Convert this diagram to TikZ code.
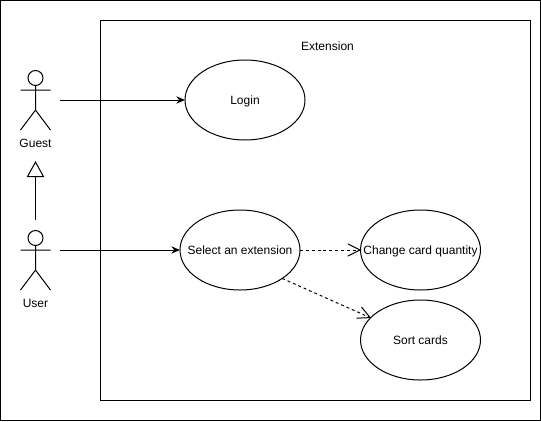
\documentclass[tikz,border=0pt]{standalone}
\usepackage{fontspec}
\setmainfont{Liberation Sans}
\usetikzlibrary{arrows.meta,shapes.geometric}
\tikzset{
  usecase/.style={draw, ellipse, minimum width=90pt, minimum height=60pt, inner xsep=-30pt, inner ysep=0pt, outer sep=0pt, text height=7.5pt, text depth=0.5pt, font=\fontsize{9pt}{11pt}\selectfont},
  plainlabel/.style={inner sep=0pt, font=\fontsize{9pt}{11pt}\selectfont},
  assoc/.style={-{Stealth[length=6.5pt,width=5.5pt]}},
  dep/.style={dash pattern=on 2.2pt off 2.2pt, -{Straight Barb[length=9pt,width=9pt,round=false]}},
  inherit/.style={-{Triangle[open,length=12pt,width=13pt]}},
}
\begin{document}
\begin{tikzpicture}[x=0.75pt,y=-0.75pt,line width=0.75pt]
\useasboundingbox (0,0) rectangle (541,421);
\draw (0.5,0.5) rectangle (540.5,420.5);
\draw (100.5,20.5) rectangle (530.5,400.5);
\node[plainlabel] (title) at (327.5,46) {Extension};
% use cases
\node[usecase] (login) at (245,100) {Login};
\node[usecase] (select) at (240,250) {Select an extension};
\node[usecase] (quantity) at (420.5,250) {Change card quantity};
\node[usecase] (sort) at (420.5,340) {Sort cards};
% actors
\draw (35.5,78) circle (7.5);
\draw (35.5,85.5) -- (35.5,110) (20.5,90) -- (50.5,90) (20.5,130) -- (35.5,110) -- (50.5,130);
\node[plainlabel] (guest) at (35.5,143.5) {Guest};
\draw (35.5,238) circle (7.5);
\draw (35.5,245.5) -- (35.5,270) (20.5,250) -- (50.5,250) (20.5,290) -- (35.5,270) -- (50.5,290);
\node[plainlabel] (user) at (35.5,303.5) {User};
\coordinate (guestend) at (60,100);
\coordinate (userend) at (60,250);
\coordinate (inhstart) at (35.5,220);
\coordinate (inhend) at (35.5,161);
% connectors
\draw[assoc] (guestend) -- (login);
\draw[assoc] (userend) -- (select);
\draw[inherit] (inhstart) -- (inhend);
\draw[dep] (select) -- (quantity);
\draw[dep] (select.-34) -- (sort.156);
\end{tikzpicture}
\end{document}
